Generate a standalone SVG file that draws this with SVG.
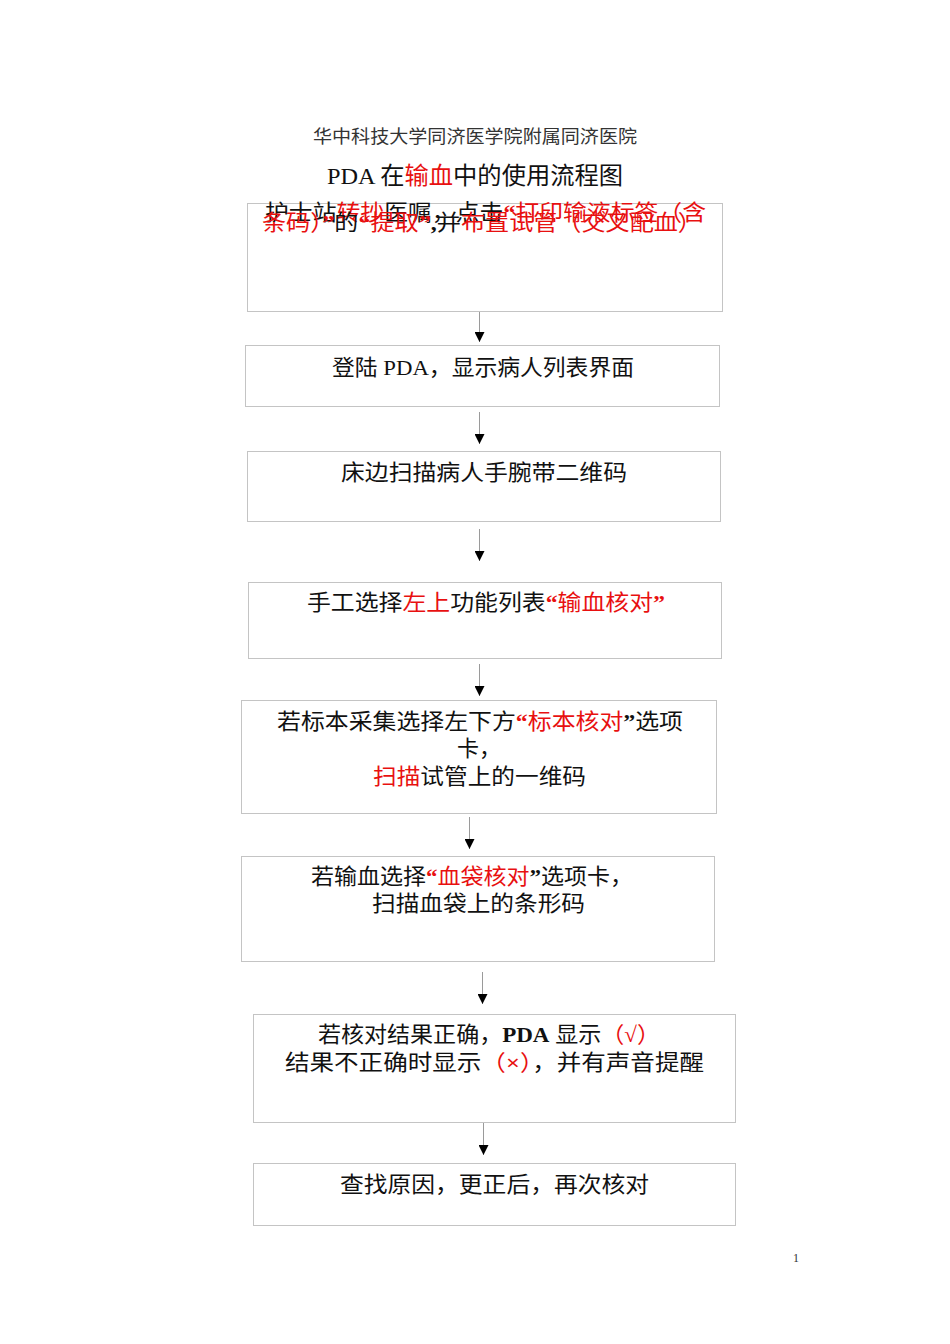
<svg xmlns="http://www.w3.org/2000/svg" width="950" height="1344" viewBox="0 0 950 1344">
<style>
text{font-family:"Liberation Serif","Noto Sans CJK SC",serif;fill:#111}
.r{fill:#e81010}
.b{font-weight:bold}
.box{fill:#fff;stroke:#c4c4c4;stroke-width:1}
.ln{stroke:#9a9a9a;stroke-width:1;fill:none}
.t{font-size:22px}
</style>
<defs>
<marker id="ah" viewBox="0 0 10 10" refX="10" refY="5" markerWidth="10" markerHeight="10" markerUnits="userSpaceOnUse" orient="auto">
<path d="M0,0 L10,5 L0,10 Z" fill="#000"/>
</marker>
</defs>
<rect width="950" height="1344" fill="#fff"/>
<text x="313" y="143" font-size="18" textLength="324" lengthAdjust="spacingAndGlyphs" style="fill:#333">华中科技大学同济医学院附属同济医院</text>
<text x="327" y="184" font-size="24" textLength="296" lengthAdjust="spacingAndGlyphs">PDA 在<tspan class="r">输血</tspan>中的使用流程图</text>

<g id="connectors">
<line class="ln" x1="479.5" y1="311" x2="479.5" y2="342" marker-end="url(#ah)"/>
<line class="ln" x1="479.5" y1="412" x2="479.5" y2="444" marker-end="url(#ah)"/>
<line class="ln" x1="479.5" y1="529" x2="479.5" y2="561" marker-end="url(#ah)"/>
<line class="ln" x1="479.5" y1="664" x2="479.5" y2="696" marker-end="url(#ah)"/>
<line class="ln" x1="469.5" y1="817" x2="469.5" y2="849" marker-end="url(#ah)"/>
<line class="ln" x1="482.5" y1="972" x2="482.5" y2="1004" marker-end="url(#ah)"/>
<line class="ln" x1="483.5" y1="1122" x2="483.5" y2="1155" marker-end="url(#ah)"/>
</g>

<g id="n1">
<rect class="box" x="247.5" y="203.5" width="475" height="108"/>
<text class="t" x="265" y="220" textLength="441" lengthAdjust="spacingAndGlyphs">护士站<tspan class="r">转抄</tspan>医嘱，点击<tspan class="r b">“</tspan><tspan class="r">打印输液标签（含</tspan></text>
<text class="t" x="262" y="230" textLength="440" lengthAdjust="spacingAndGlyphs"><tspan class="r">条码）</tspan><tspan class="r b">”</tspan>的<tspan class="r b">“</tspan><tspan class="r">提取</tspan><tspan class="r b">”</tspan><tspan class="b">,</tspan>并<tspan class="r">布置试管（交叉配血）</tspan></text>
</g>

<g id="n2">
<rect class="box" x="245.5" y="345.5" width="474" height="61"/>
<text class="t" x="332" y="375" textLength="302" lengthAdjust="spacingAndGlyphs">登陆 PDA，显示病人列表界面</text>
</g>

<g id="n3">
<rect class="box" x="247.5" y="451.5" width="473" height="70"/>
<text class="t" x="341" y="480" textLength="286" lengthAdjust="spacingAndGlyphs">床边扫描病人手腕带二维码</text>
</g>

<g id="n4">
<rect class="box" x="248.5" y="582.5" width="473" height="76"/>
<text class="t" x="307" y="610" textLength="358" lengthAdjust="spacingAndGlyphs">手工选择<tspan class="r">左上</tspan>功能列表<tspan class="r b">“</tspan><tspan class="r">输血核对</tspan><tspan class="r b">”</tspan></text>
</g>

<g id="n5">
<rect class="box" x="241.5" y="700.5" width="475" height="113"/>
<text class="t" x="277" y="729" textLength="406" lengthAdjust="spacingAndGlyphs">若标本采集选择左下方<tspan class="r b">“</tspan><tspan class="r">标本核对</tspan><tspan class="b">”</tspan>选项</text>
<text class="t" x="457" y="756">卡，</text>
<text class="t" x="373" y="784" textLength="213" lengthAdjust="spacingAndGlyphs"><tspan class="r">扫描</tspan>试管上的一维码</text>
</g>

<g id="n6">
<rect class="box" x="241.5" y="856.5" width="473" height="105"/>
<text class="t" x="311" y="884" textLength="322" lengthAdjust="spacingAndGlyphs">若输血选择<tspan class="r b">“</tspan><tspan class="r">血袋核对</tspan><tspan class="b">”</tspan>选项卡，</text>
<text class="t" x="372" y="911" textLength="213" lengthAdjust="spacingAndGlyphs">扫描血袋上的条形码</text>
</g>

<g id="n7">
<rect class="box" x="253.5" y="1014.5" width="482" height="108"/>
<text class="t" x="318" y="1042" textLength="342" lengthAdjust="spacingAndGlyphs">若核对结果正确，<tspan class="b">PDA</tspan> 显示<tspan class="r">（√）</tspan></text>
<text class="t" x="285" y="1070" textLength="419" lengthAdjust="spacingAndGlyphs">结果不正确时显示<tspan class="r">（<tspan class="b">×</tspan>）</tspan>，并有声音提醒</text>
</g>

<g id="n8">
<rect class="box" x="253.5" y="1163.5" width="482" height="62"/>
<text class="t" x="340" y="1192" textLength="309" lengthAdjust="spacingAndGlyphs">查找原因，更正后，再次核对</text>
</g>

<text x="793" y="1262" font-size="12" style="fill:#333">1</text>
</svg>
